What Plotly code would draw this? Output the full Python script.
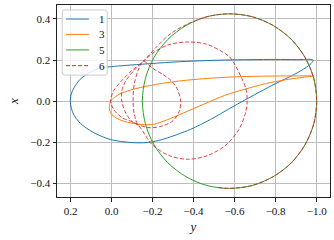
import plotly.graph_objects as go

# Horizontal axis is labelled "y", vertical axis "x".
# Series 1
s1_y = [-0.983, -0.90, -0.80, -0.68, -0.55, -0.43, -0.30, -0.14, 0.00, 0.055, 0.110, 0.153, 0.183, 0.198, 0.201,
        0.196, 0.183, 0.160, 0.125, 0.088, 0.040, 0.006, -0.050, -0.100, -0.150, -0.200, -0.260, -0.384, -0.483,
        -0.597, -0.760, -0.920, -0.975, -0.983]
s1_x = [0.200, 0.202, 0.203, 0.202, 0.200, 0.196, 0.190, 0.179, 0.168, 0.161, 0.137, 0.106, 0.065, 0.030, 0.000,
        -0.035, -0.068, -0.100, -0.130, -0.153, -0.175, -0.187, -0.197, -0.202, -0.203, -0.198, -0.183, -0.138, -0.089,
        -0.024, 0.065, 0.146, 0.185, 0.200]

# Series 3
s3_y = [-0.987, -0.80, -0.597, -0.40, -0.270, -0.140, -0.080, -0.040, -0.015, 0.004, 0.011, 0.006, -0.012, -0.050,
        -0.107, -0.160, -0.205, -0.287, -0.350, -0.450, -0.550, -0.650, -0.750, -0.850, -0.950, -0.987]
s3_x = [0.122, 0.122, 0.118, 0.105, 0.090, 0.066, 0.050, 0.035, 0.018, 0.000, -0.030, -0.055, -0.075, -0.095,
        -0.109, -0.115, -0.113, -0.085, -0.058, -0.015, 0.027, 0.058, 0.085, 0.104, 0.118, 0.122]

# Series 5
s5_y = [-0.150, -0.165, -0.207, -0.275, -0.363, -0.465, -0.575, -0.685, -0.788, -0.876, -0.943, -0.986, -1.000,
        -0.986, -0.943, -0.876, -0.788, -0.685, -0.575, -0.465, -0.363, -0.275, -0.207, -0.165, -0.150]
s5_x = [0.000, 0.110, 0.213, 0.301, 0.368, 0.411, 0.425, 0.411, 0.368, 0.301, 0.213, 0.110, 0.000,
        -0.110, -0.213, -0.301, -0.368, -0.411, -0.425, -0.411, -0.368, -0.301, -0.213, -0.110, 0.000]

# Series 6
s6_y = [-0.520, -0.575, -0.685, -0.788, -0.876, -0.943, -0.986, -1.000, -0.986, -0.943, -0.876, -0.788, -0.685,
        -0.575, -0.465, -0.370, -0.290, -0.220, -0.155,
        -0.100, -0.050, -0.010, 0.005, -0.010, -0.050, -0.126,
        -0.197, -0.280, -0.369, -0.460, -0.550, -0.620, -0.655, -0.661, -0.655, -0.580, -0.540, -0.460, -0.369,
        -0.280, -0.210, -0.155,
        -0.110, -0.070, -0.050, -0.050, -0.070, -0.100, -0.126,
        -0.190, -0.250, -0.300, -0.330, -0.337, -0.320, -0.290, -0.250, -0.200, -0.155,
        -0.130, -0.110, -0.105, -0.110, -0.126]
s6_x = [-0.421, -0.425, -0.411, -0.368, -0.301, -0.213, -0.110, 0.000, 0.110, 0.213, 0.301, 0.368, 0.411,
        0.425, 0.411, 0.375, 0.330, 0.265, 0.194,
        0.150, 0.100, 0.050, 0.000, -0.040, -0.080, -0.114,
        -0.211, -0.265, -0.283, -0.268, -0.220, -0.140, -0.050, 0.000, 0.060, 0.210, 0.240, 0.278, 0.288,
        0.275, 0.240, 0.194,
        0.150, 0.100, 0.050, 0.000, -0.060, -0.100, -0.114,
        -0.130, -0.120, -0.095, -0.050, 0.000, 0.060, 0.100, 0.130, 0.160, 0.194,
        0.150, 0.080, 0.000, -0.060, -0.114]

names = ["1", "3", "5", "6"]
y_ticks = [0.2, 0.0, -0.2, -0.4, -0.6, -0.8, -1.0]
x_ticks = [-0.4, -0.2, 0.0, 0.2, 0.4]

font_family = "Liberation Serif"
colors = ["#1f77b4", "#ff7f0e", "#2ca02c", "#d62728"]
dashes = ["solid", "solid", "solid", "4px,2px"]
series = [(s1_y, s1_x), (s3_y, s3_x), (s5_y, s5_x), (s6_y, s6_x)]

fig = go.Figure()
for (sy, sx), nm, col, dsh in zip(series, names, colors, dashes):
    fig.add_trace(go.Scatter(x=sy, y=sx, mode="lines", name=nm,
                             opacity=0.85 if dsh != "solid" else 1.0,
                             line=dict(color=col, width=1, dash=dsh, shape="spline", smoothing=0.9)))

axis_common = dict(
    showline=True, linecolor="#222222", linewidth=1, mirror=True,
    ticks="outside", ticklen=3.5, tickwidth=0.8, tickcolor="#222222",
    showgrid=True, gridcolor="#bdbdbd", gridwidth=0.8, zeroline=False,
    tickfont=dict(family=font_family, size=11, color="#111111"),
    tickformat=".1f", automargin=False,
)

# Compact legend box (matplotlib-style), drawn in paper coordinates
bx0, bx1, by0, by1 = 0.0194, 0.184, 0.635, 0.974
rx, ry = 0.008, 0.011
box_path = (f"M {bx0+rx},{by0} L {bx1-rx},{by0} Q {bx1},{by0} {bx1},{by0+ry} "
            f"L {bx1},{by1-ry} Q {bx1},{by1} {bx1-rx},{by1} L {bx0+rx},{by1} "
            f"Q {bx0},{by1} {bx0},{by1-ry} L {bx0},{by0+ry} Q {bx0},{by0} {bx0+rx},{by0} Z")
shapes = [dict(type="path", xref="paper", yref="paper", path=box_path, layer="above",
               fillcolor="rgba(255,255,255,0.8)", line=dict(color="#cccccc", width=1))]
annotations = []
entry_y = [0.927, 0.847, 0.766, 0.684]
for nm, col, dsh, ey in zip(names, colors, dashes, entry_y):
    shapes.append(dict(type="line", xref="paper", yref="paper", x0=0.033, x1=0.117, y0=ey, y1=ey,
                       layer="above", line=dict(color=col, width=1, dash=dsh)))
    annotations.append(dict(xref="paper", yref="paper", x=0.1465, y=ey, text=nm, showarrow=False,
                            xanchor="left", yanchor="middle",
                            font=dict(family=font_family, size=11, color="#111111")))

fig.update_layout(
    width=334, height=240,
    margin=dict(l=57, r=4, t=5, b=43),
    paper_bgcolor="white", plot_bgcolor="white",
    font=dict(family=font_family, size=11, color="#111111"),
    xaxis=dict(range=[0.266, -1.065], tickvals=y_ticks,
               title=dict(text="<i>y</i>", font=dict(family=font_family, size=13), standoff=6),
               **axis_common),
    yaxis=dict(range=[-0.467, 0.468], tickvals=x_ticks,
               title=dict(text="<i>x</i>", font=dict(family=font_family, size=13), standoff=8),
               **axis_common),
    showlegend=False,
    shapes=shapes,
    annotations=annotations,
)

fig.write_html("out.html", config={"displayModeBar": False},
               post_script="document.body.style.margin='0px';")
